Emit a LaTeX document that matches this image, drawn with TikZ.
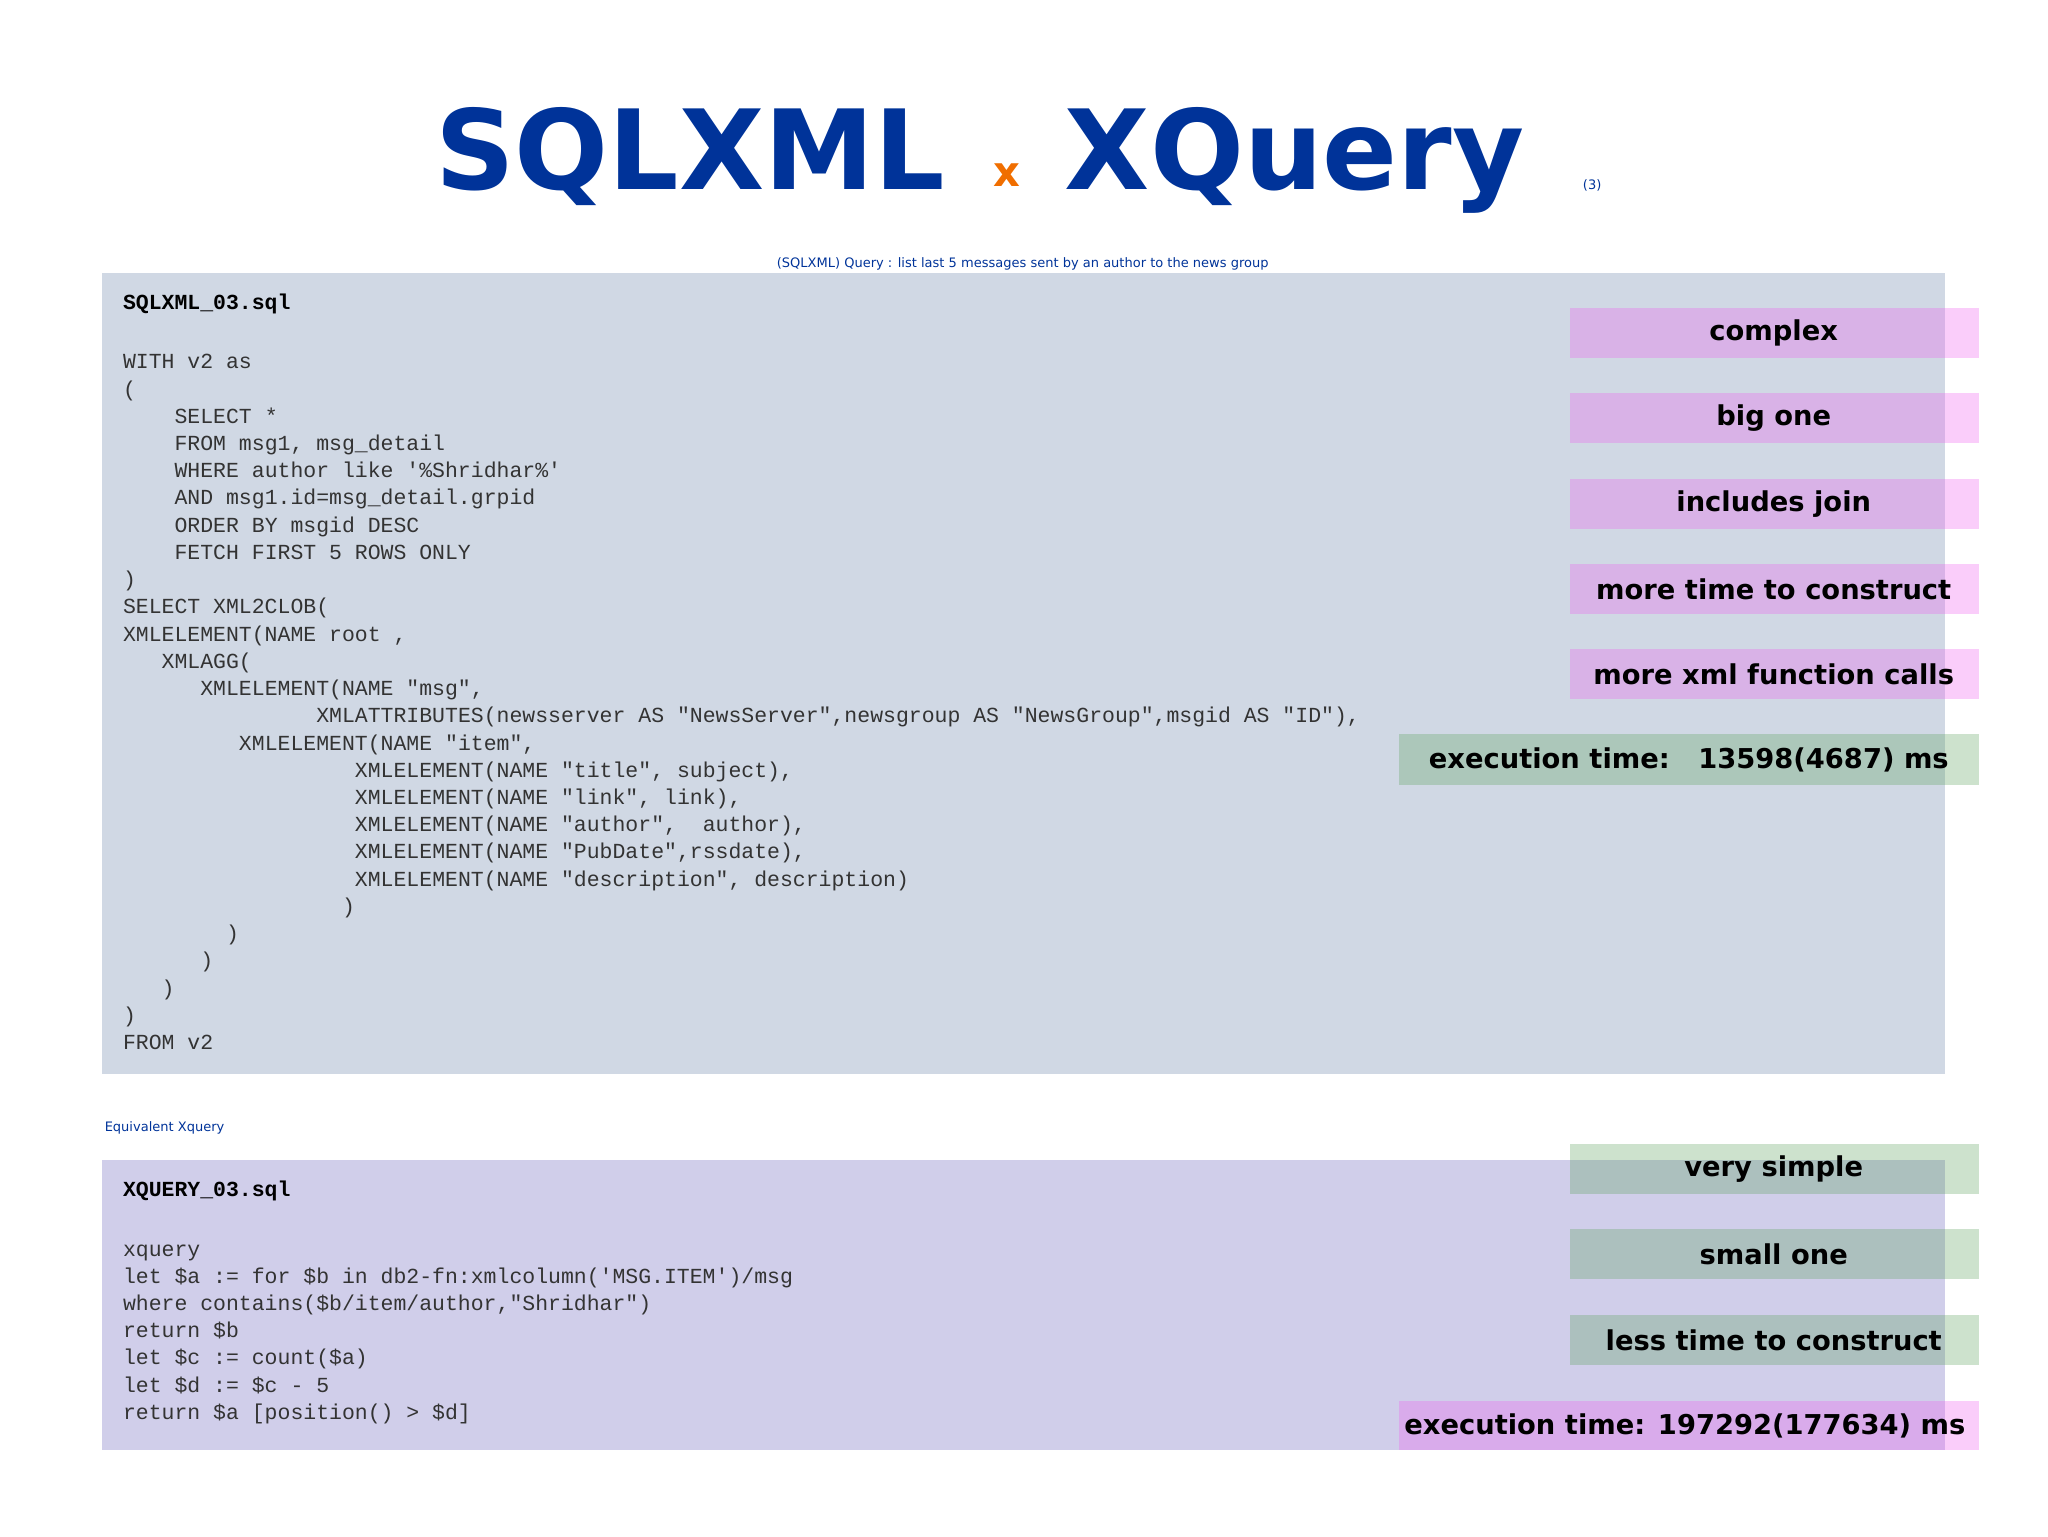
\documentclass[tikz,border=0pt]{standalone}
\usepackage{fontspec}
\setmainfont{DejaVu Sans}
\setmonofont{Liberation Mono}
\definecolor{tblue}{RGB}{0,51,153}
\definecolor{torange}{RGB}{240,110,0}
\definecolor{gbox}{RGB}{208,216,228}
\definecolor{pbox}{RGB}{208,206,234}
\definecolor{pinkc}{RGB}{239,100,240}
\definecolor{greenc}{RGB}{90,160,90}
\tikzset{
 code/.style={anchor=base west,inner sep=0pt,font=\fontsize{16.5}{18}\ttfamily,text=black!80},
 lab/.style={inner sep=0pt,font=\fontsize{21}{24}\bfseries,text=black},
 pinkbar/.style={fill=pinkc,fill opacity=0.32,draw=none},
 greenbar/.style={fill=greenc,fill opacity=0.3,draw=none},
}
\begin{document}
\begin{tikzpicture}[x=1bp,y=-1bp]
\useasboundingbox (0,0) rectangle (1568,1176);
% title
\node[anchor=base west,inner sep=0pt,text=tblue,font=\fontsize{85}{90}\bfseries] (t1) at (333,145) {SQLXML};
\node[anchor=base,inner sep=0pt,text=torange,font=\fontsize{32}{34}\bfseries] (tx) at (771,143) {x};
\node[anchor=base west,inner sep=0pt,text=tblue,font=\fontsize{85}{90}\bfseries] (t2) at (815,145) {XQuery};
\node[anchor=base,inner sep=0pt,text=tblue,font=\fontsize{19}{22}] (t3) at (1219,145) {(3)};
\node[anchor=base,inner sep=0pt,text=tblue,font=\fontsize{19.5}{22}] (sub) at (783,205) {(SQLXML) Query : list last 5 messages sent by an author to the news group};
% boxes
\fill[gbox] (78,209) rectangle (1489,822);
\node[anchor=base west,inner sep=0pt,text=tblue,font=\fontsize{21}{24}] (eq) at (80,866) {Equivalent Xquery};
\fill[pbox] (78,888) rectangle (1489,1110);
% code 1
\node[code,font=\fontsize{16.5}{18}\ttfamily\bfseries,text=black] (c0) at (94,237) {SQLXML\_03.sql};
\foreach \t [count=\i] in {
 {WITH v2 as},
 {(},
 {\ \ \ \ SELECT *},
 {\ \ \ \ FROM msg1, msg\_detail},
 {\ \ \ \ WHERE author like '\%Shridhar\%'},
 {\ \ \ \ AND msg1.id=msg\_detail.grpid},
 {\ \ \ \ ORDER BY msgid DESC},
 {\ \ \ \ FETCH FIRST 5 ROWS ONLY},
 {)},
 {SELECT XML2CLOB(},
 {XMLELEMENT(NAME root ,},
 {\ \ \ XMLAGG(},
 {\ \ \ \ \ \ XMLELEMENT(NAME "msg",},
 {\ \ \ \ \ \ \ \ \ \ \ \ \ \ \ XMLATTRIBUTES(newsserver AS "NewsServer",newsgroup AS "NewsGroup",msgid AS "ID"),},
 {\ \ \ \ \ \ \ \ \ XMLELEMENT(NAME "item",},
 {\ \ \ \ \ \ \ \ \ \ \ \ \ \ \ \ \ \ XMLELEMENT(NAME "title", subject),},
 {\ \ \ \ \ \ \ \ \ \ \ \ \ \ \ \ \ \ XMLELEMENT(NAME "link", link),},
 {\ \ \ \ \ \ \ \ \ \ \ \ \ \ \ \ \ \ XMLELEMENT(NAME "author",\ \ author),},
 {\ \ \ \ \ \ \ \ \ \ \ \ \ \ \ \ \ \ XMLELEMENT(NAME "PubDate",rssdate),},
 {\ \ \ \ \ \ \ \ \ \ \ \ \ \ \ \ \ \ XMLELEMENT(NAME "description", description)},
 {\ \ \ \ \ \ \ \ \ \ \ \ \ \ \ \ \ )},
 {\ \ \ \ \ \ \ \ )},
 {\ \ \ \ \ \ )},
 {\ \ \ )},
 {)},
 {FROM v2}}
 \node[code] (a\i) at (94,{261.5+20.85*\i}) {\t};
% code 2
\node[code,font=\fontsize{16.5}{18}\ttfamily\bfseries,text=black] (d0) at (94,916) {XQUERY\_03.sql};
\foreach \t [count=\i] in {
 {xquery},
 {let \$a := for \$b in db2-fn:xmlcolumn('MSG.ITEM')/msg},
 {where contains(\$b/item/author,"Shridhar")},
 {return \$b},
 {let \$c := count(\$a)},
 {let \$d := \$c - 5},
 {return \$a [position() > \$d]}}
 \node[code] (b\i) at (94,{941+20.8*\i}) {\t};
% labels
\foreach \y/\t [count=\i] in {255/complex,320/big one,386/includes join,451/more time to construct,516/more xml function calls}{
 \fill[pinkbar] (1202,\y-19) rectangle (1515,\y+19);
 \node[lab] (p\i) at (1358,\y) {\t};
}
\fill[greenbar] (1071,562) rectangle (1515,601);
\node[lab] (e1) at (1293,582) {execution time:\ \ \ 13598(4687) ms};
\foreach \y/\t [count=\i] in {895/very simple,960/small one,1026/less time to construct}{
 \fill[greenbar] (1202,\y-19) rectangle (1515,\y+19);
 \node[lab] (g\i) at (1358,\y) {\t};
}
\fill[pinkbar] (1071,1073) rectangle (1515,1110);
\node[lab] (e2) at (1290,1092) {execution time: 197292(177634) ms};
\end{tikzpicture}
\end{document}
